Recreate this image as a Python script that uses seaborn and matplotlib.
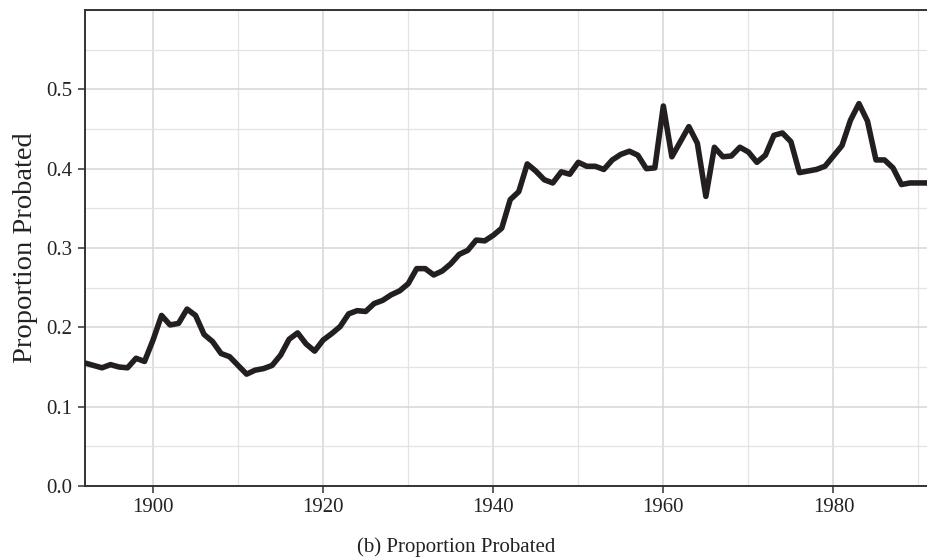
import matplotlib
matplotlib.use("Agg")
import matplotlib.pyplot as plt
from matplotlib.ticker import MultipleLocator
import numpy as np
import pandas as pd
import seaborn as sns

years = list(range(1892, 1992))
proportion = [
    0.155, 0.152, 0.149, 0.153, 0.150, 0.149, 0.161, 0.157,  # 1892-1899
    0.184, 0.215, 0.203, 0.205, 0.223, 0.215, 0.191, 0.182, 0.167, 0.163,  # 1900s
    0.152, 0.141, 0.146, 0.148, 0.152, 0.165, 0.185, 0.193, 0.179, 0.170,  # 1910s
    0.184, 0.192, 0.201, 0.217, 0.221, 0.220, 0.230, 0.234, 0.241, 0.246,  # 1920s
    0.255, 0.274, 0.274, 0.266, 0.271, 0.280, 0.292, 0.297, 0.310, 0.309,  # 1930s
    0.316, 0.325, 0.361, 0.371, 0.406, 0.397, 0.386, 0.382, 0.396, 0.393,  # 1940s
    0.408, 0.403, 0.403, 0.399, 0.411, 0.418, 0.422, 0.417, 0.400, 0.401,  # 1950s
    0.479, 0.415, 0.434, 0.453, 0.432, 0.365, 0.427, 0.415, 0.416, 0.427,  # 1960s
    0.421, 0.408, 0.417, 0.442, 0.445, 0.434, 0.395, 0.397, 0.399, 0.403,  # 1970s
    0.416, 0.429, 0.461, 0.482, 0.460, 0.411, 0.411, 0.401, 0.380, 0.382,  # 1980s
    0.382, 0.382,  # 1990-1991
]

x_major = [1900, 1920, 1940, 1960, 1980]
y_major = [0.0, 0.1, 0.2, 0.3, 0.4, 0.5]
y_labels = ["0.0", "0.1", "0.2", "0.3", "0.4", "0.5"]

df = pd.DataFrame({"year": years, "proportion": proportion})

sns.set_style("white")
plt.rcParams["font.family"] = ["Liberation Serif", "DejaVu Serif"]

fig = plt.figure(figsize=(9.27, 5.6), dpi=100)
ax = fig.add_axes([85 / 927, 1 - 486 / 560, (927 - 85) / 927, (486 - 10) / 560])

sns.lineplot(data=df, x="year", y="proportion", ax=ax, color="#231f20",
             linewidth=4.0, zorder=3)

ax.set_xlim(1892, 1991)
ax.set_ylim(0, 0.6)
ax.set_xticks(x_major)
ax.set_xticklabels([str(v) for v in x_major])
ax.set_yticks(y_major)
ax.set_yticklabels(y_labels)
ax.xaxis.set_minor_locator(MultipleLocator(10))
ax.yaxis.set_minor_locator(MultipleLocator(0.05))

ax.grid(which="major", color="#d6d6d6", linewidth=1.1, zorder=0)
ax.grid(which="minor", color="#e3e3e3", linewidth=0.9, zorder=0)
ax.set_axisbelow(True)

for side in ["left", "bottom", "top"]:
    ax.spines[side].set_visible(True)
    ax.spines[side].set_color("#333333")
    ax.spines[side].set_linewidth(1.4)
ax.spines["right"].set_visible(False)

ax.tick_params(which="major", direction="out", length=5, width=1.1,
               color="#333333", labelsize=15, labelcolor="#222222",
               left=True, bottom=True, pad=4)
ax.tick_params(which="minor", length=0)

ax.set_xlabel("")
ax.set_ylabel("Proportion Probated", fontsize=20.5, color="#222222", labelpad=6)

fig.text(0.492, 0.006, "(b) Proportion Probated", ha="center", va="bottom",
         fontsize=15, color="#222222")

fig.savefig("out.png", dpi=100)
